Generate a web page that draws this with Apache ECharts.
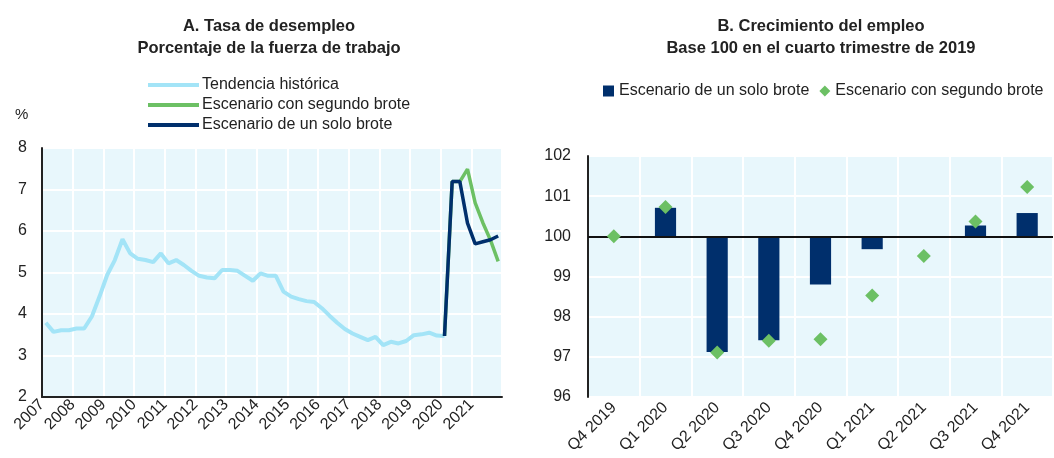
<!DOCTYPE html>
<html>
<head>
<meta charset="utf-8">
<script src="https://cdn.jsdelivr.net/npm/echarts@6/dist/echarts.min.js"></script>
<style>
  html, body { margin: 0; padding: 0; background: #fff; }
  #main { width: 1054px; height: 458px; }
</style>
</head>
<body>
<div id="main"></div>
<script>
(function(){
    // Panel A: tasa de desempleo, trimestral 2007T1 - 2021T4
    var firstYear = 2007;
    var historico = [
        3.79, 3.57, 3.61, 3.61, 3.65, 3.65, 3.94, 4.42, 4.94, 5.30,
        5.80, 5.46, 5.33, 5.30, 5.25, 5.46, 5.22, 5.30, 5.18, 5.04,
        4.92, 4.88, 4.86, 5.06, 5.06, 5.04, 4.92, 4.80, 4.98, 4.92,
        4.92, 4.54, 4.42, 4.36, 4.31, 4.29, 4.14, 3.96, 3.79, 3.64,
        3.53, 3.45, 3.37, 3.45, 3.25, 3.33, 3.29, 3.35, 3.49, 3.51,
        3.55, 3.48, 3.47
    ];
    // 2020T1 - 2021T4
    var unSoloBrote = [3.47, 7.19, 7.19, 6.19, 5.69, 5.74, 5.79, 5.88];
    var segundoBrote = [3.47, 7.19, 7.19, 7.49, 6.68, 6.20, 5.78, 5.27];
    var escenarioStart = 52;

    // Panel B: crecimiento del empleo, base 100 = 2019T4
    var trimestres = ['Q4 2019', 'Q1 2020', 'Q2 2020', 'Q3 2020', 'Q4 2020',
                      'Q1 2021', 'Q2 2021', 'Q3 2021', 'Q4 2021'];
    var empleoUnSolo = [100, 100.71, 97.12, 97.41, 98.80, 99.68, 99.97, 100.27, 100.58];
    var empleoSegundo = [100, 100.73, 97.11, 97.40, 97.44, 98.53, 99.51, 100.37, 101.23];
    var base = 100;

    var navy = '#002f6c', green = '#6cc064', light = '#a3e4f7', bg = '#e8f7fc';
    var font = 'Liberation Sans, Arial, sans-serif';

    function quarterPoints(arr, start) {
        return arr.map(function (v, i) {
            return [firstYear + (start + i + 0.5) / 4, v];
        });
    }

    var myChart = echarts.init(document.getElementById('main'));

    var titleStyle = { fontSize: 16.5, fontWeight: 'bold', lineHeight: 22, color: '#222', fontFamily: font };

    var option = {
        animation: false,
        textStyle: { fontFamily: font, color: '#222' },
        title: [{
            text: 'A. Tasa de desempleo\nPorcentaje de la fuerza de trabajo',
            left: 264, top: 10, textAlign: 'center',
            textStyle: titleStyle
        }, {
            text: 'B. Crecimiento del empleo\nBase 100 en el cuarto trimestre de 2019',
            left: 816, top: 10, textAlign: 'center',
            textStyle: titleStyle
        }, {
            text: '%', left: 10, top: 102,
            textStyle: { fontSize: 15, fontWeight: 'normal', color: '#222', fontFamily: font }
        }],
        legend: [{
            orient: 'vertical',
            left: 143, top: 72,
            itemGap: 4,
            itemWidth: 51, itemHeight: 4,
            icon: 'rect',
            data: ['Tendencia histórica', 'Escenario con segundo brote', 'Escenario de un solo brote'],
            textStyle: { fontSize: 16, color: '#222', fontFamily: font, padding: [0, 0, 0, -2] }
        }, {
            left: 598, top: 78, width: 470,
            itemGap: 10,
            itemWidth: 11, itemHeight: 11,
            data: [
                { name: 'B|Escenario de un solo brote', icon: 'rect' },
                { name: 'B|Escenario con segundo brote', icon: 'diamond' }
            ],
            formatter: function (n) { return n.replace('B|', ''); },
            textStyle: { fontSize: 16, color: '#222', fontFamily: font }
        }],
        grid: [
            { left: 42, top: 148, width: 460, height: 249, show: true, backgroundColor: bg, borderWidth: 0 },
            { left: 588, top: 156, width: 465, height: 241, show: true, backgroundColor: bg, borderWidth: 0 }
        ],
        xAxis: [{
            gridIndex: 0, type: 'value', min: 2007, max: 2022, interval: 1,
            axisLine: { lineStyle: { color: '#222', width: 2 } },
            axisTick: { show: false },
            splitLine: { show: true, lineStyle: { color: '#fff', width: 2 } },
            axisLabel: { rotate: 45, fontSize: 16, color: '#222', margin: 5, showMaxLabel: false,
                         formatter: function (v) { return String(v); } }
        }, {
            gridIndex: 1, type: 'category', data: trimestres,
            axisLine: { show: false },
            axisTick: { show: false },
            splitLine: { show: true, interval: 0, lineStyle: { color: '#fff', width: 2 } },
            axisLabel: { rotate: 45, fontSize: 16, color: '#222', margin: 8, interval: 0 }
        }],
        yAxis: [{
            gridIndex: 0, type: 'value', min: 2, max: 8, interval: 1,
            axisLine: { show: true, lineStyle: { color: '#222', width: 2 } },
            axisTick: { show: false },
            splitLine: { lineStyle: { color: '#fff', width: 2 } },
            axisLabel: { fontSize: 16, color: '#222', margin: 15 }
        }, {
            gridIndex: 1, type: 'value', min: -4, max: 2, interval: 1,
            axisLine: { show: true, onZero: false, lineStyle: { color: '#222', width: 2 } },
            axisTick: { show: false },
            splitLine: { lineStyle: { color: '#fff', width: 2 } },
            axisLabel: { fontSize: 16, color: '#222', margin: 17,
                         formatter: function (v) { return String(v + base); } }
        }],
        series: [{
            name: 'Tendencia histórica', type: 'line',
            xAxisIndex: 0, yAxisIndex: 0,
            data: quarterPoints(historico, 0),
            showSymbol: false, symbol: 'none',
            lineStyle: { color: light, width: 4 },
            itemStyle: { color: light }
        }, {
            name: 'Escenario con segundo brote', type: 'line',
            xAxisIndex: 0, yAxisIndex: 0,
            data: quarterPoints(segundoBrote, escenarioStart),
            showSymbol: false, symbol: 'none',
            lineStyle: { color: green, width: 3.5 },
            itemStyle: { color: green }
        }, {
            name: 'Escenario de un solo brote', type: 'line',
            xAxisIndex: 0, yAxisIndex: 0,
            data: quarterPoints(unSoloBrote, escenarioStart),
            showSymbol: false, symbol: 'none',
            lineStyle: { color: navy, width: 3.5 },
            itemStyle: { color: navy }
        }, {
            name: 'B|Escenario de un solo brote', type: 'bar',
            xAxisIndex: 1, yAxisIndex: 1,
            barWidth: '41%',
            data: empleoUnSolo.map(function (v) { return +(v - base).toFixed(2); }),
            itemStyle: { color: navy },
            markLine: {
                silent: true, symbol: 'none',
                label: { show: false },
                lineStyle: { color: '#111', width: 2, type: 'solid' },
                data: [{ yAxis: 0 }]
            }
        }, {
            name: 'B|Escenario con segundo brote', type: 'scatter',
            xAxisIndex: 1, yAxisIndex: 1,
            symbol: 'diamond', symbolSize: 14,
            data: empleoSegundo.map(function (v) { return +(v - base).toFixed(2); }),
            itemStyle: { color: green, opacity: 1 },
            z: 5
        }]
    };

    myChart.setOption(option);
})()
</script>
</body>
</html>
